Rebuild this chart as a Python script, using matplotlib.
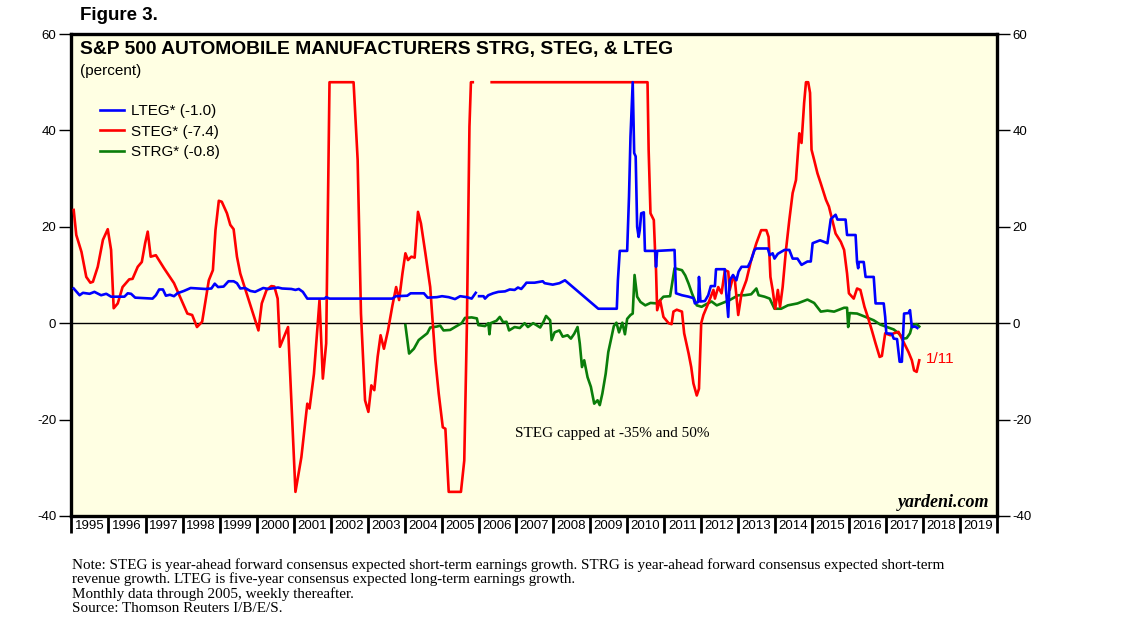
import numpy as np
import matplotlib.pyplot as plt

# --- Data (decimal year, percent) ---
steg_year = [1995.06, 1995.13, 1995.27, 1995.40, 1995.51, 1995.58, 1995.71, 1995.85, 1995.98, 1996.07,
             1996.14, 1996.25, 1996.38, 1996.56, 1996.65, 1996.79, 1996.90, 1996.99, 1997.06, 1997.14,
             1997.28, 1997.50, 1997.77, 1998.13, 1998.26, 1998.39, 1998.53, 1998.71, 1998.82, 1998.89,
             1998.98, 1999.06, 1999.20, 1999.29, 1999.38, 1999.47, 1999.56, 2000.05, 2000.14, 2000.27,
             2000.40, 2000.48, 2000.57, 2000.63, 2000.85, 2001.05, 2001.21, 2001.37, 2001.43, 2001.55,
             2001.70, 2001.79, 2001.88, 2001.97, 2002.62, 2002.73, 2002.82, 2002.93, 2003.02, 2003.10,
             2003.18, 2003.27, 2003.35, 2003.44, 2003.55, 2003.67, 2003.77, 2003.85, 2003.94, 2004.02,
             2004.09, 2004.18, 2004.27, 2004.36, 2004.44, 2004.56, 2004.69, 2004.83, 2004.92, 2005.03,
             2005.10, 2005.19, 2005.52, 2005.61, 2005.68, 2005.75, 2005.79, 2005.84, 2005.90, 2006.35,
             2010.56, 2010.59, 2010.64, 2010.73, 2010.77, 2010.79, 2010.82, 2010.90, 2010.99, 2011.13,
             2011.21, 2011.26, 2011.35, 2011.49, 2011.55, 2011.67, 2011.74, 2011.80, 2011.89, 2011.95,
             2012.01, 2012.07, 2012.20, 2012.34, 2012.38, 2012.47, 2012.56, 2012.65, 2012.74, 2012.78,
             2012.87, 2012.92, 2013.01, 2013.10, 2013.23, 2013.36, 2013.50, 2013.63, 2013.77, 2013.83,
             2013.88, 2013.94, 2014.01, 2014.08, 2014.14, 2014.21, 2014.30, 2014.39, 2014.48, 2014.57,
             2014.66, 2014.72, 2014.79, 2014.84, 2014.90, 2014.95, 2014.99, 2015.06, 2015.15, 2015.24,
             2015.38, 2015.46, 2015.55, 2015.64, 2015.78, 2015.87, 2015.95, 2016.00, 2016.13, 2016.22,
             2016.31, 2016.42, 2016.51, 2016.62, 2016.72, 2016.83, 2016.89, 2016.98, 2017.12, 2017.21,
             2017.34, 2017.43, 2017.61, 2017.70, 2017.76, 2017.83, 2017.90]
steg_val = [23.5, 18.3, 14.8, 9.6, 8.4, 8.6, 11.7, 17.3, 19.5, 15.2,
            3.1, 4.1, 7.5, 9.1, 9.2, 11.7, 12.7, 16.6, 19.0, 13.8,
            14.1, 11.4, 8.3, 2.0, 1.7, -0.8, 0.3, 8.9, 11.0, 19.3,
            25.4, 25.2, 22.8, 20.4, 19.5, 13.8, 10.3, -1.5, 4.1, 6.9,
            7.7, 7.6, 5.1, -4.9, -0.8, -35.0, -27.8, -16.7, -17.7, -10.5,
            4.8, -11.5, -4.2, 50.0, 50.0, 33.9, 2.0, -16.0, -18.4, -12.9,
            -13.9, -7.0, -2.5, -5.3, -1.5, 3.7, 7.5, 4.8, 10.3, 14.5,
            13.1, 13.8, 13.6, 23.1, 20.7, 14.5, 7.5, -7.7, -14.6, -21.6,
            -21.9, -35.0, -35.0, -28.5, -0.8, 40.8, 50.0, 50.0, np.nan, 50.0,
            50.0, 36.0, 22.8, 21.4, 13.8, 11.0, 2.7, 4.8, 1.3, 0.0,
            -0.2, 2.4, 2.8, 2.4, -2.1, -6.3, -9.1, -12.5, -15.0, -13.6,
            0.0, 1.7, 4.1, 6.9, 5.1, 7.5, 6.2, 11.0, 10.7, 6.9,
            9.6, 8.9, 1.7, 6.2, 8.9, 13.1, 16.6, 19.3, 19.3, 17.9,
            9.6, 6.9, 3.0, 6.9, 3.4, 7.5, 15.2, 21.4, 27.0, 29.7,
            39.4, 37.4, 45.7, 50.0, 50.0, 47.8, 36.0, 33.9, 31.1, 29.0,
            25.6, 24.2, 21.4, 18.6, 16.9, 15.2, 10.3, 6.2, 5.1, 7.2,
            6.9, 3.4, 1.3, -1.5, -4.2, -7.0, -6.8, -2.1, -2.5, -2.1,
            -1.8, -3.2, -6.0, -7.7, -9.8, -10.1, -7.7]

lteg_year = [1995.06, 1995.22, 1995.31, 1995.49, 1995.62, 1995.80, 1995.94, 1996.07, 1996.43, 1996.52,
             1996.61, 1996.72, 1997.19, 1997.28, 1997.37, 1997.47, 1997.55, 1997.66, 1997.77, 1997.86,
             1998.04, 1998.22, 1998.44, 1998.62, 1998.78, 1998.87, 1998.96, 1999.11, 1999.24, 1999.38,
             1999.47, 1999.56, 1999.69, 1999.83, 1999.96, 2000.18, 2000.32, 2000.58, 2000.69, 2000.94,
             2001.05, 2001.14, 2001.25, 2001.37, 2001.84, 2001.88, 2001.97, 2003.67, 2003.76, 2004.07,
             2004.16, 2004.52, 2004.62, 2004.87, 2005.01, 2005.19, 2005.36, 2005.50, 2005.68, 2005.81,
             2005.92, 2005.96, 2006.01, 2006.13, 2006.17, 2006.26, 2006.39, 2006.53, 2006.71, 2006.84,
             2006.97, 2007.06, 2007.15, 2007.24, 2007.29, 2007.51, 2007.73, 2007.78, 2008.00, 2008.18,
             2008.33, 2009.23, 2009.73, 2009.76, 2009.81, 2010.01, 2010.06, 2010.10, 2010.16, 2010.20,
             2010.24, 2010.28, 2010.32, 2010.35, 2010.39, 2010.46, 2010.49, 2010.77, 2010.79, 2010.82,
             2011.29, 2011.33, 2011.49, 2011.67, 2011.80, 2011.84, 2011.93, 2011.95, 2011.99, 2012.11,
             2012.20, 2012.27, 2012.38, 2012.41, 2012.65, 2012.68, 2012.74, 2012.78, 2012.87, 2012.96,
             2013.02, 2013.10, 2013.27, 2013.36, 2013.45, 2013.50, 2013.81, 2013.86, 2013.94, 2013.99,
             2014.08, 2014.26, 2014.39, 2014.48, 2014.61, 2014.72, 2014.88, 2014.97, 2015.02, 2015.22,
             2015.42, 2015.51, 2015.64, 2015.69, 2015.91, 2015.95, 2016.18, 2016.22, 2016.25, 2016.27,
             2016.40, 2016.45, 2016.67, 2016.72, 2016.94, 2016.98, 2017.01, 2017.16, 2017.21, 2017.30,
             2017.37, 2017.43, 2017.49, 2017.61, 2017.65, 2017.70, 2017.79, 2017.85]
lteg_val = [7.2, 5.8, 6.3, 6.1, 6.5, 5.8, 6.1, 5.5, 5.5, 6.2,
            6.1, 5.3, 5.1, 5.8, 7.0, 7.0, 5.7, 5.9, 5.6, 6.2,
            6.7, 7.3, 7.2, 7.1, 7.2, 8.2, 7.5, 7.6, 8.7, 8.7,
            8.3, 7.2, 7.3, 6.7, 6.5, 7.3, 7.1, 7.4, 7.2, 7.1,
            6.9, 7.1, 6.5, 5.1, 5.1, 5.4, 5.1, 5.1, 5.6, 5.7,
            6.2, 6.2, 5.3, 5.4, 5.6, 5.4, 5.0, 5.6, 5.4, 5.1,
            6.3, np.nan, 5.6, 5.6, 5.1, 5.8, 6.2, 6.5, 6.6, 7.0,
            6.9, 7.4, 7.1, 7.9, 8.4, 8.4, 8.7, 8.3, 8.0, 8.3,
            8.9, 3.0, 3.0, 8.9, 15.0, 15.0, 26.3, 38.7, 50.0, 35.3,
            34.6, 20.0, 17.9, 19.3, 22.8, 23.0, 15.0, 15.0, 11.7, 15.0,
            15.2, 6.2, 5.8, 5.5, 5.2, 4.1, 4.4, 9.6, 4.5, 4.6,
            5.8, 7.7, 7.7, 11.2, 11.2, 6.9, 1.3, 8.9, 10.0, 8.9,
            10.7, 11.7, 11.7, 13.1, 15.2, 15.5, 15.5, 14.1, 14.5, 13.4,
            14.4, 15.2, 15.2, 13.4, 13.4, 12.1, 12.8, 12.8, 16.6, 17.2,
            16.6, 21.6, 22.5, 21.5, 21.5, 18.3, 18.3, 12.7, 11.4, 12.7,
            12.7, 9.6, 9.6, 4.1, 4.1, 1.3, -2.1, -2.2, -3.2, -3.3,
            -8.0, -8.0, 2.0, 2.1, 2.7, -0.8, -0.7, -1.0]

strg_year = [2004.02, 2004.12, 2004.25, 2004.38, 2004.61, 2004.69, 2004.79, 2004.87, 2004.96, 2005.05,
             2005.23, 2005.36, 2005.54, 2005.63, 2005.81, 2005.95, 2005.99, 2006.17, 2006.26, 2006.29,
             2006.32, 2006.48, 2006.57, 2006.66, 2006.75, 2006.82, 2006.97, 2007.11, 2007.24, 2007.33,
             2007.47, 2007.56, 2007.66, 2007.75, 2007.82, 2007.93, 2007.97, 2008.05, 2008.18, 2008.27,
             2008.40, 2008.49, 2008.58, 2008.67, 2008.73, 2008.79, 2008.85, 2008.94, 2009.03, 2009.12,
             2009.21, 2009.27, 2009.34, 2009.43, 2009.50, 2009.57, 2009.65, 2009.72, 2009.79, 2009.88,
             2009.95, 2010.01, 2010.10, 2010.16, 2010.21, 2010.28, 2010.37, 2010.50, 2010.64, 2010.82,
             2010.99, 2011.17, 2011.29, 2011.49, 2011.58, 2011.67, 2011.76, 2011.89, 2012.02, 2012.16,
             2012.29, 2012.43, 2012.56, 2012.78, 2013.01, 2013.18, 2013.36, 2013.50, 2013.56, 2013.72,
             2013.86, 2013.99, 2014.17, 2014.35, 2014.61, 2014.88, 2015.06, 2015.24, 2015.42, 2015.60,
             2015.87, 2015.95, 2015.98, 2016.02, 2016.22, 2016.45, 2016.67, 2016.85, 2017.03, 2017.21,
             2017.34, 2017.48, 2017.56, 2017.65, 2017.71, 2017.83, 2017.90]
strg_val = [-0.4, -6.3, -5.3, -3.5, -2.1, -0.9, -0.8, -0.7, -0.5, -1.5,
            -1.4, -0.8, 0.0, 1.1, 1.2, 1.0, -0.4, -0.6, 0.0, -2.3,
            0.0, 0.5, 1.3, 0.2, 0.3, -1.5, -0.8, -1.0, 0.0, -0.8,
            0.0, -0.4, -0.9, 0.3, 1.5, 0.6, -3.5, -1.9, -1.5, -2.8,
            -2.5, -3.2, -2.2, -0.8, -4.2, -9.1, -7.7, -11.2, -13.2, -16.7,
            -16.0, -17.0, -14.6, -10.5, -6.0, -3.5, -0.6, 0.1, -1.9, 0.1,
            -2.3, 0.9, 1.7, 2.0, 10.0, 5.5, 4.4, 3.7, 4.2, 4.1,
            5.5, 5.6, 11.4, 11.0, 9.9, 8.2, 6.2, 3.7, 3.4, 4.0,
            4.5, 3.7, 4.1, 4.8, 5.8, 5.8, 6.0, 7.2, 5.8, 5.5,
            5.1, 3.0, 3.0, 3.7, 4.1, 4.9, 4.2, 2.4, 2.6, 2.4,
            3.2, 3.2, -0.8, 2.1, 2.0, 1.3, 0.6, -0.3, -0.8, -1.3,
            -2.1, -3.2, -3.1, -2.1, -0.4, -0.2, -0.7]

years = list(range(1995, 2020))
y_ticks = [-40, -20, 0, 20, 40, 60]

notes = [
    "Note: STEG is year-ahead forward consensus expected short-term earnings growth. STRG is year-ahead forward consensus expected short-term",
    "revenue growth. LTEG is five-year consensus expected long-term earnings growth.",
    "Monthly data through 2005, weekly thereafter.",
    "Source: Thomson Reuters I/B/E/S.",
]

plt.rcParams['font.family'] = ['Liberation Sans', 'DejaVu Sans']
plt.rcParams['axes.unicode_minus'] = False

fig = plt.figure(figsize=(11.38, 6.37), dpi=100)
ax = fig.add_axes([0.0628, 0.19, 0.8133, 0.7566])
ax.set_facecolor('#FFFFE3')

ax.axhline(0, color='black', linewidth=1.0, zorder=1)
ax.plot(strg_year, strg_val, color='#0A7D0A', linewidth=1.9, label='STRG* (-0.8)', zorder=2)
ax.plot(steg_year, steg_val, color='#FF0000', linewidth=1.9, label='STEG* (-7.4)', zorder=3)
ax.plot(lteg_year, lteg_val, color='#0000FF', linewidth=1.9, label='LTEG* (-1.0)', zorder=4)

ax.set_xlim(1995.0, 2019.9)
ax.set_ylim(-40, 60)

# y axis on both sides
ax.set_yticks(y_ticks)
ax.tick_params(axis='y', which='major', direction='out', length=9, width=1.0,
               left=True, right=True, labelleft=True, labelright=True, labelsize=9.5, pad=2)

# years: separators as major ticks, labels on minor ticks in the middle
ax.set_xticks(years + [2020])
ax.set_xticklabels([])
ax.set_xticks([y + 0.5 for y in years], minor=True)
ax.set_xticklabels([str(y) for y in years], minor=True)
ax.tick_params(axis='x', which='major', direction='out', length=12, width=2.0)
ax.tick_params(axis='x', which='minor', length=0, labelsize=9.5, pad=3)

for s in ax.spines.values():
    s.set_linewidth(2.4)

# titles
ax.text(0.0092, 0.968, "S&P 500 AUTOMOBILE MANUFACTURERS STRG, STEG, & LTEG",
        transform=ax.transAxes, fontsize=13.9, fontweight='bold', va='center', ha='left')
ax.text(0.0092, 0.923, "(percent)", transform=ax.transAxes, fontsize=11, va='center', ha='left')
fig.text(0.070, 0.976, "Figure 3.", fontsize=13.5, fontweight='bold', va='center', ha='left')

handles, labels = ax.get_legend_handles_labels()
ax.legend(handles[::-1], labels[::-1], loc='upper left', bbox_to_anchor=(0.016, 0.883),
          frameon=False, fontsize=11, handlelength=1.6, handletextpad=0.45, labelspacing=0.42)

ax.text(0.584, 0.172, "STEG capped at -35% and 50%", transform=ax.transAxes,
        fontsize=11, family='Liberation Serif', ha='center', va='center')
ax.text(0.992, 0.027, "yardeni.com", transform=ax.transAxes, fontsize=13,
        family='Liberation Serif', style='italic', fontweight='bold', ha='right', va='center')
ax.annotate("1/11", xy=(steg_year[-1], steg_val[-1]), xytext=(5, 1), textcoords='offset points',
            color='#FF0000', fontsize=11, va='center', ha='left')

note_y = [0.113, 0.0905, 0.0675, 0.0445]
for txt, yy in zip(notes, note_y):
    fig.text(0.0633, yy, txt, fontsize=10.9, family='Liberation Serif', va='center', ha='left')

fig.savefig("out.png", dpi=100)
